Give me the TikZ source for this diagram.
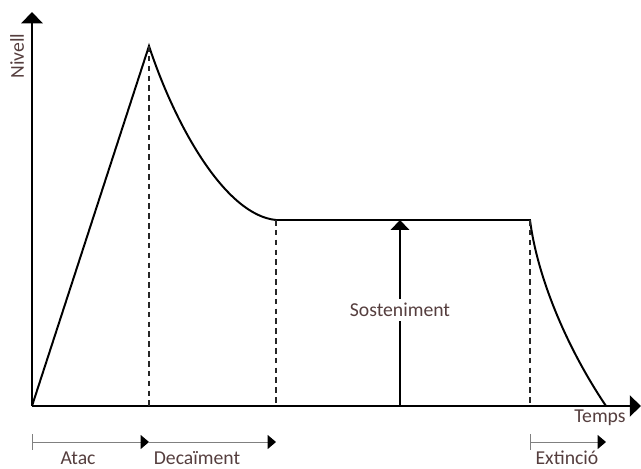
\documentclass[tikz,border=0pt]{standalone}
\usepackage{fontspec}
\setmainfont{Carlito}
\usetikzlibrary{arrows.meta,positioning,calc}
\definecolor{labelbrown}{RGB}{85, 62, 62}
\definecolor{spangrey}{RGB}{128, 128, 128}

\begin{document}
\begin{tikzpicture}[x=0.025cm, y=-0.025cm,
axis/.style ={-{Triangle[length=8pt,width=15pt]}, line width=1.4pt, black},
curve/.style ={line width=1.4pt, black},
guide/.style ={dash pattern=on 4pt off 3pt, line width=0.9pt, black!85},
span/.style ={-{Triangle[length=6pt,width=10pt,black]}, line width=0.7pt, draw=spangrey},
label/.style ={text=labelbrown, font=\fontsize{14}{16}\selectfont, inner sep=0pt},
]
\useasboundingbox (0,0) rectangle (641,469);

% corners of the envelope
\coordinate (O) at (32,406);
\coordinate (YTOP) at (32,12);
\coordinate (XEND) at (641,406);
\coordinate (PEAK) at (149,46);
\coordinate (SUS) at (276,220);
\coordinate (REL) at (530,220);
\coordinate (END) at (606,406);

% axes
\draw[axis] (O) -- (YTOP);
\draw[axis] (O) -- (XEND);
\node (NIVELL) [label, rotate=90] at (17,56) {Nivell};
\node (TEMPS) [label] at (600,418) {Temps};

% envelope
\draw[curve] (O) -- (PEAK)
  .. controls (175,125) and (225,215) .. (SUS)
  -- (REL)
  .. controls (537,275) and (565,345) .. (END);

% guides
\draw[guide] (PEAK) -- (PEAK |- O);
\draw[guide] (SUS) -- (SUS |- O);
\draw[guide] (REL) -- (REL |- O);

% sustain level
\coordinate (SBASE) at (400,406);
\coordinate (STOP) at (400,220);
\draw[axis, -{Triangle[length=7pt,width=13pt]}] (SBASE) -- (STOP);
\node (SOST) [label, fill=white, inner sep=3pt] at (400,310) {Sosteniment};

% phases
\coordinate (A0) at (32,442);
\coordinate (A1) at (149,442);
\coordinate (A2) at (276,442);
\coordinate (E0) at (530,442);
\coordinate (E1) at (606,442);
\draw[spangrey, line width=0.7pt] ($(A0)+(0,-8)$) -- ($(A0)+(0,8)$);
\draw[span] (A0) -- (A1);
\draw[span] (A1) -- (A2);
\draw[spangrey, line width=0.7pt] ($(E0)+(0,-8)$) -- ($(E0)+(0,8)$);
\draw[span] (E0) -- (E1);
\node (ATAC) [label] at (78,458) {Atac};
\node (DECAI) [label] at (197,458) {Decaïment};
\node (EXTIN) [label] at (567,458) {Extinció};

\end{tikzpicture}
\end{document}
